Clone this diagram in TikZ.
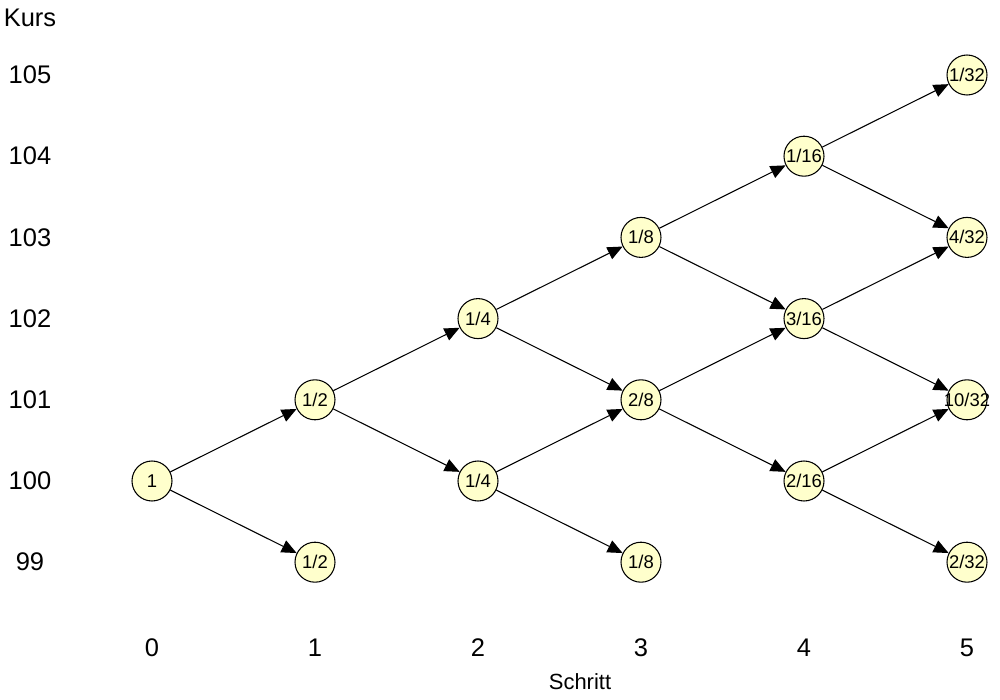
\documentclass[tikz,border=0pt]{standalone}
\usepackage{fontspec}
\setmainfont{Liberation Sans}
\usepackage{tikz}
\usetikzlibrary{arrows.meta}
\definecolor{knotgelb}{RGB}{255,255,204}

\begin{document}
\begin{tikzpicture}[
  x=3.26cm, y=1.624cm,
  knoten/.style={circle, draw, line width=0.6pt, fill=knotgelb, minimum size=0.8cm,
    inner sep=0pt, font=\fontsize{10.5}{11}\selectfont},
  achse/.style={font=\fontsize{14.5}{16}\selectfont},
  pfeil/.style={-{Triangle[length=0.3cm,width=0.26cm]}, line width=0.6pt}
]
\useasboundingbox (-3.04cm,-4.38cm) rectangle (16.96cm,9.62cm);

% Kurs-Achse
\node[achse] (kurs) at (-2.44cm,9.26cm) {Kurs};
\node[achse] (k105) at (-2.44cm,5) {105};
\node[achse] (k104) at (-2.44cm,4) {104};
\node[achse] (k103) at (-2.44cm,3) {103};
\node[achse] (k102) at (-2.44cm,2) {102};
\node[achse] (k101) at (-2.44cm,1) {101};
\node[achse] (k100) at (-2.44cm,0) {100};
\node[achse] (k99) at (-2.44cm,-1) {99};

% Schritt-Achse
\node[achse] (t0) at (0,-3.34cm) {0};
\node[achse] (t1) at (1,-3.34cm) {1};
\node[achse] (t2) at (2,-3.34cm) {2};
\node[achse] (t3) at (3,-3.34cm) {3};
\node[achse] (t4) at (4,-3.34cm) {4};
\node[achse] (t5) at (5,-3.34cm) {5};
\node[font=\fontsize{12.5}{14}\selectfont] (schritt) at (8.56cm,-4.02cm) {Schritt};

% Knoten
\node[knoten] (s0k100) at (0,0) {1};
\node[knoten] (s1k101) at (1,1) {1/2};
\node[knoten] (s1k99) at (1,-1) {1/2};
\node[knoten] (s2k102) at (2,2) {1/4};
\node[knoten] (s2k100) at (2,0) {1/4};
\node[knoten] (s3k103) at (3,3) {1/8};
\node[knoten] (s3k101) at (3,1) {2/8};
\node[knoten] (s3k99) at (3,-1) {1/8};
\node[knoten] (s4k104) at (4,4) {1/16};
\node[knoten] (s4k102) at (4,2) {3/16};
\node[knoten] (s4k100) at (4,0) {2/16};
\node[knoten] (s5k105) at (5,5) {1/32};
\node[knoten] (s5k103) at (5,3) {4/32};
\node[knoten] (s5k101) at (5,1) {\makebox[0pt]{10/32}};
\node[knoten] (s5k99) at (5,-1) {2/32};

% Pfeile
\draw[pfeil] (s0k100) -- (s1k101);
\draw[pfeil] (s0k100) -- (s1k99);
\draw[pfeil] (s1k101) -- (s2k102);
\draw[pfeil] (s1k101) -- (s2k100);
\draw[pfeil] (s2k102) -- (s3k103);
\draw[pfeil] (s2k102) -- (s3k101);
\draw[pfeil] (s2k100) -- (s3k101);
\draw[pfeil] (s2k100) -- (s3k99);
\draw[pfeil] (s3k103) -- (s4k104);
\draw[pfeil] (s3k103) -- (s4k102);
\draw[pfeil] (s3k101) -- (s4k102);
\draw[pfeil] (s3k101) -- (s4k100);
\draw[pfeil] (s4k104) -- (s5k105);
\draw[pfeil] (s4k104) -- (s5k103);
\draw[pfeil] (s4k102) -- (s5k103);
\draw[pfeil] (s4k102) -- (s5k101);
\draw[pfeil] (s4k100) -- (s5k101);
\draw[pfeil] (s4k100) -- (s5k99);
\end{tikzpicture}
\end{document}
